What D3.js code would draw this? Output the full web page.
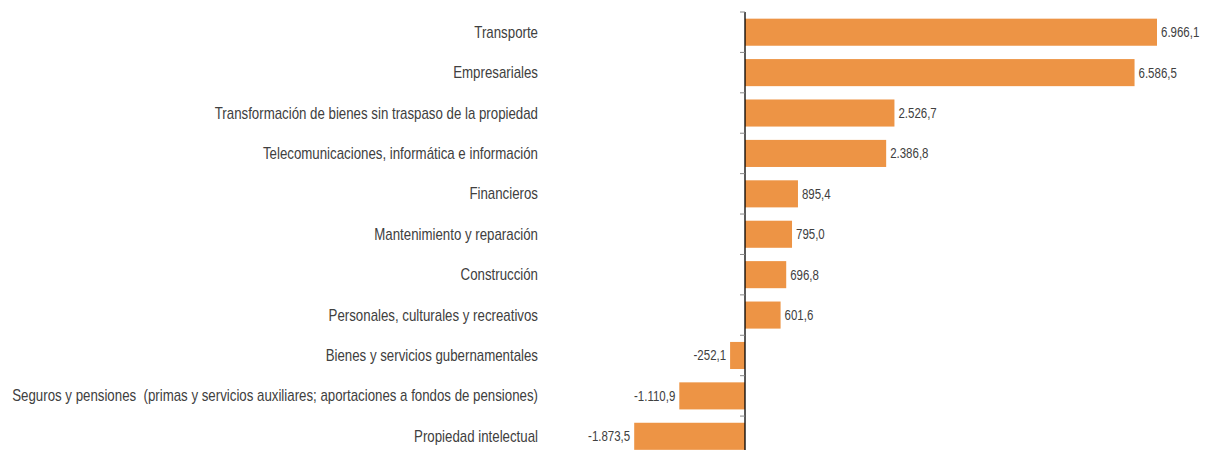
<!DOCTYPE html>
<html>
<head>
<meta charset="utf-8">
<script src="https://cdn.jsdelivr.net/npm/d3@7"></script>
<style>
  body { margin: 0; background: #fff; }
  text { font-family: "Liberation Sans", Arial, sans-serif; white-space: pre; }
</style>
</head>
<body>
<div id="viz"></div>
<script>
const categories = [
	'Transporte',
	'Empresariales',
	'Transformación de bienes sin traspaso de la propiedad',
	'Telecomunicaciones, informática e información',
	'Financieros',
	'Mantenimiento y reparación',
	'Construcción',
	'Personales, culturales y recreativos',
	'Bienes y servicios gubernamentales',
	'Seguros y pensiones  (primas y servicios auxiliares; aportaciones a fondos de pensiones)',
	'Propiedad intelectual'
];
const values = [6966.1, 6586.5, 2526.7, 2386.8, 895.4, 795.0, 696.8, 601.6, -252.1, -1110.9, -1873.5];

const width = 1206;
const height = 450;
const color = '#ED9445';
const narrow = 0.83; // fake Arial Narrow
const fmt = d3.formatLocale({decimal: ',', thousands: '.', grouping: [3], minus: '-', currency: ['', '']}).format(',.1f');

const xScale = d3.scaleLinear()
	.domain([-1873.5, 6966.1])
	.range([634.2, 1157]);

const yScale = d3.scaleBand()
	.domain(categories)
	.range([12, 456.5])
	.paddingInner(0.33)
	.paddingOuter(0.165);

const chart = d3.select('#viz')
	.append('svg')
	.attr('width', width)
	.attr('height', height);

// bars
chart.selectAll('.bar')
	.data(values)
	.join('rect')
	.attr('class', 'bar')
	.attr('x', d => xScale(Math.min(0, d)))
	.attr('y', (d, i) => yScale(categories[i]))
	.attr('width', d => Math.abs(xScale(d) - xScale(0)))
	.attr('height', yScale.bandwidth())
	.attr('fill', color);

// category labels
chart.selectAll('.cat')
	.data(categories)
	.join('text')
	.attr('class', 'cat')
	.attr('transform', d => `translate(538, ${yScale(d) + yScale.bandwidth() / 2}) scale(${narrow}, 1)`)
	.attr('dy', '0.35em')
	.attr('text-anchor', 'end')
	.attr('font-size', 16)
	.attr('fill', '#404040')
	.text(d => d);

// value labels
chart.selectAll('.val')
	.data(values)
	.join('text')
	.attr('class', 'val')
	.attr('transform', (d, i) => `translate(${d >= 0 ? xScale(d) + 4 : xScale(d) - 4}, ${yScale(categories[i]) + yScale.bandwidth() / 2}) scale(0.82, 1)`)
	.attr('dy', '0.35em')
	.attr('text-anchor', d => d >= 0 ? 'start' : 'end')
	.attr('font-size', 14)
	.attr('fill', '#404040')
	.text(d => fmt(d));

// axis line with ticks between bands
const step = yScale.step();
const tickYs = d3.range(categories.length + 1).map(i => 12 + i * step);
const axis = chart.append('g');
axis.append('line')
	.attr('x1', xScale(0)).attr('x2', xScale(0))
	.attr('y1', 12).attr('y2', height)
	.attr('stroke', '#000')
	.attr('stroke-width', 1.3);
axis.selectAll('.tick')
	.data(tickYs)
	.join('line')
	.attr('class', 'tick')
	.attr('x1', xScale(0) - 5).attr('x2', xScale(0))
	.attr('y1', d => d).attr('y2', d => d)
	.attr('stroke', '#888')
	.attr('stroke-width', 1);
</script>
</body>
</html>
